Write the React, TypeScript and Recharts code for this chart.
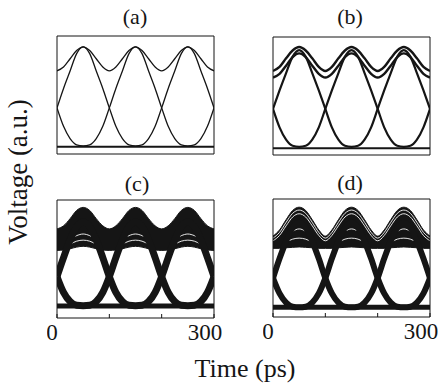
import { ComposedChart, Line, Area, XAxis, YAxis } from "recharts";

const SERIF = '"Liberation Serif", "DejaVu Serif", "Times New Roman", serif';
const INK = "#151515";

// sample times across the 300 ps window
const timePs = [
  0, 12.5, 25, 37.5, 50, 62.5, 75, 87.5, 100, 112.5, 125, 137.5, 150, 162.5, 175, 187.5, 200,
  212.5, 225, 237.5, 250, 262.5, 275, 287.5, 300,
];
const xTicks = [0, 100, 200, 300];
const yTicks = [0, 1, 2, 3, 4, 5];
const timeLabels = [0, 300];

// (a) clean eye
const aOnes = [3.76, 3.95, 4.35, 4.75, 4.93, 4.75, 4.35, 3.95, 3.76, 3.95, 4.35, 4.75, 4.93, 4.75, 4.35, 3.95, 3.76, 3.95, 4.35, 4.75, 4.93, 4.75, 4.35, 3.95, 3.76];
const aFall = [1.95, 2.9, 3.75, 4.6, 4.93, 4.6, 3.75, 2.9, 1.95, 1.05, 0.45, 0.15, 0.1, 0.15, 0.45, 1.05, 1.95, 2.9, 3.75, 4.6, 4.93, 4.6, 3.75, 2.9, 1.95];
const aRise = [1.95, 1.05, 0.45, 0.15, 0.1, 0.15, 0.45, 1.05, 1.95, 2.9, 3.75, 4.6, 4.93, 4.6, 3.75, 2.9, 1.95, 1.05, 0.45, 0.15, 0.1, 0.15, 0.45, 1.05, 1.95];
const aZeros = [0.05, 0.05, 0.05, 0.05, 0.05, 0.05, 0.05, 0.05, 0.05, 0.05, 0.05, 0.05, 0.05, 0.05, 0.05, 0.05, 0.05, 0.05, 0.05, 0.05, 0.05, 0.05, 0.05, 0.05, 0.05];

// (b) slightly split "1" level
const bOnesHi = [3.8, 4.0, 4.42, 4.8, 4.97, 4.8, 4.42, 4.0, 3.8, 4.0, 4.42, 4.8, 4.97, 4.8, 4.42, 4.0, 3.8, 4.0, 4.42, 4.8, 4.97, 4.8, 4.42, 4.0, 3.8];
const bOnesLo = [3.48, 3.66, 4.06, 4.48, 4.66, 4.48, 4.06, 3.66, 3.48, 3.66, 4.06, 4.48, 4.66, 4.48, 4.06, 3.66, 3.48, 3.66, 4.06, 4.48, 4.66, 4.48, 4.06, 3.66, 3.48];
const bFall = [1.95, 2.85, 3.7, 4.5, 4.82, 4.5, 3.7, 2.85, 1.95, 1.05, 0.45, 0.15, 0.1, 0.15, 0.45, 1.05, 1.95, 2.85, 3.7, 4.5, 4.82, 4.5, 3.7, 2.85, 1.95];
const bRise = [1.95, 1.05, 0.45, 0.15, 0.1, 0.15, 0.45, 1.05, 1.95, 2.85, 3.7, 4.5, 4.82, 4.5, 3.7, 2.85, 1.95, 1.05, 0.45, 0.15, 0.1, 0.15, 0.45, 1.05, 1.95];
const bZeros = [0.03, 0.03, 0.03, 0.03, 0.03, 0.03, 0.03, 0.03, 0.03, 0.03, 0.03, 0.03, 0.03, 0.03, 0.03, 0.03, 0.03, 0.03, 0.03, 0.03, 0.03, 0.03, 0.03, 0.03, 0.03];

// (c) noisy eye
const cOnesHi = [4.05, 4.2, 4.55, 4.95, 5.1, 4.95, 4.55, 4.2, 4.05, 4.2, 4.55, 4.95, 5.1, 4.95, 4.55, 4.2, 4.05, 4.2, 4.55, 4.95, 5.1, 4.95, 4.55, 4.2, 4.05];
const cOnesLo = [3.0, 3.02, 3.08, 3.16, 3.2, 3.16, 3.08, 3.02, 3.0, 3.02, 3.08, 3.16, 3.2, 3.16, 3.08, 3.02, 3.0, 3.02, 3.08, 3.16, 3.2, 3.16, 3.08, 3.02, 3.0];
const cGap1 = [null, null, 3.3, 3.45, 3.5, 3.45, 3.3, null, null, null, 3.3, 3.45, 3.5, 3.45, 3.3, null, null, null, 3.3, 3.45, 3.5, 3.45, 3.3, null, null];
const cGap2 = [null, null, 3.55, 3.72, 3.8, 3.72, 3.55, null, null, null, 3.55, 3.72, 3.8, 3.72, 3.55, null, null, null, 3.55, 3.72, 3.8, 3.72, 3.55, null, null];
const cFall = [1.72, 2.65, 3.5, 4.15, 4.4, 4.15, 3.5, 2.65, 1.72, 0.95, 0.5, 0.32, 0.3, 0.32, 0.5, 0.95, 1.72, 2.65, 3.5, 4.15, 4.4, 4.15, 3.5, 2.65, 1.72];
const cRise = [1.72, 0.95, 0.5, 0.32, 0.3, 0.32, 0.5, 0.95, 1.72, 2.65, 3.5, 4.15, 4.4, 4.15, 3.5, 2.65, 1.72, 0.95, 0.5, 0.32, 0.3, 0.32, 0.5, 0.95, 1.72];
const cZeros = [0.28, 0.28, 0.28, 0.28, 0.28, 0.28, 0.28, 0.28, 0.28, 0.28, 0.28, 0.28, 0.28, 0.28, 0.28, 0.28, 0.28, 0.28, 0.28, 0.28, 0.28, 0.28, 0.28, 0.28, 0.28];

// (d) noisy eye, deeper "11" dips
const dOnesHi = [3.65, 3.95, 4.45, 4.9, 5.06, 4.9, 4.45, 3.95, 3.65, 3.95, 4.45, 4.9, 5.06, 4.9, 4.45, 3.95, 3.65, 3.95, 4.45, 4.9, 5.06, 4.9, 4.45, 3.95, 3.65];
const dOnesLo = [3.05, 3.05, 3.08, 3.1, 3.12, 3.1, 3.08, 3.05, 3.05, 3.05, 3.08, 3.1, 3.12, 3.1, 3.08, 3.05, 3.05, 3.05, 3.08, 3.1, 3.12, 3.1, 3.08, 3.05, 3.05];
const dGap1 = [3.55, 3.83, 4.32, 4.76, 4.92, 4.76, 4.32, 3.83, 3.55, 3.83, 4.32, 4.76, 4.92, 4.76, 4.32, 3.83, 3.55, 3.83, 4.32, 4.76, 4.92, 4.76, 4.32, 3.83, 3.55];
const dGap2 = [3.42, 3.68, 4.15, 4.58, 4.74, 4.58, 4.15, 3.68, 3.42, 3.68, 4.15, 4.58, 4.74, 4.58, 4.15, 3.68, 3.42, 3.68, 4.15, 4.58, 4.74, 4.58, 4.15, 3.68, 3.42];
const dGap3 = [null, null, 3.6, 3.88, 4.0, 3.88, 3.6, null, null, null, 3.6, 3.88, 4.0, 3.88, 3.6, null, null, null, 3.6, 3.88, 4.0, 3.88, 3.6, null, null];
const dGap4 = [null, null, 3.35, 3.5, 3.55, 3.5, 3.35, null, null, null, 3.35, 3.5, 3.55, 3.5, 3.35, null, null, null, 3.35, 3.5, 3.55, 3.5, 3.35, null, null];
const dFall = [1.6, 2.55, 3.4, 4.05, 4.3, 4.05, 3.4, 2.55, 1.6, 0.85, 0.4, 0.2, 0.17, 0.2, 0.4, 0.85, 1.6, 2.55, 3.4, 4.05, 4.3, 4.05, 3.4, 2.55, 1.6];
const dRise = [1.6, 0.85, 0.4, 0.2, 0.17, 0.2, 0.4, 0.85, 1.6, 2.55, 3.4, 4.05, 4.3, 4.05, 3.4, 2.55, 1.6, 0.85, 0.4, 0.2, 0.17, 0.2, 0.4, 0.85, 1.6];
const dZeros = [0.17, 0.17, 0.17, 0.17, 0.17, 0.17, 0.17, 0.17, 0.17, 0.17, 0.17, 0.17, 0.17, 0.17, 0.17, 0.17, 0.17, 0.17, 0.17, 0.17, 0.17, 0.17, 0.17, 0.17, 0.17];

type Trace = { name: string; values: (number | null)[]; width: number; color?: string };
type Band = { name: string; lo: number[]; hi: number[] };

const BOX_W = 157;
const BOX_H = 118;

function TimeTick(props: any) {
  const v = props.payload?.value;
  if (!timeLabels.includes(v)) return <g />;
  const dx = v === 0 ? -5 : -9;
  return (
    <text x={props.x + dx} y={props.y + 24} textAnchor="middle" fontSize={23} fontFamily={SERIF} fill={INK}>
      {v}
    </text>
  );
}

function EyePanel({
  left,
  top,
  bands = [],
  traces,
  withTimeLabels = false,
}: {
  left: number;
  top: number;
  bands?: Band[];
  traces: Trace[];
  withTimeLabels?: boolean;
}) {
  // axes take 1px each, the margins make up the rest
  const margin = { top: 1, right: 13, bottom: withTimeLabels ? 31 : 1, left: 9 };
  const rows = timePs.map((t, i) => {
    const row: Record<string, any> = { t };
    bands.forEach((b) => (row[b.name] = [b.lo[i], b.hi[i]]));
    traces.forEach((tr) => (row[tr.name] = tr.values[i]));
    return row;
  });

  return (
    <div style={{ position: "absolute", left: left - margin.left - 1, top: top - margin.top - 1 }}>
      <ComposedChart
        width={BOX_W + margin.left + margin.right + 2}
        height={BOX_H + margin.top + margin.bottom + 2}
        data={rows}
        margin={margin}
      >
        <XAxis
          dataKey="t"
          type="number"
          domain={[0, 300]}
          ticks={xTicks}
          height={1}
          allowDataOverflow
          tickSize={-4}
          axisLine={{ stroke: INK }}
          tickLine={{ stroke: INK }}
          tick={withTimeLabels ? <TimeTick /> : false}
        />
        <XAxis
          xAxisId="top"
          orientation="top"
          dataKey="t"
          type="number"
          domain={[0, 300]}
          ticks={xTicks}
          height={1}
          tickSize={-4}
          axisLine={{ stroke: INK }}
          tickLine={{ stroke: INK }}
          tick={false}
        />
        <YAxis
          domain={[-0.3, 5.46]}
          ticks={yTicks}
          width={1}
          allowDataOverflow
          tickSize={-4}
          axisLine={{ stroke: INK }}
          tickLine={{ stroke: INK }}
          tick={false}
        />
        <YAxis
          yAxisId="right"
          orientation="right"
          domain={[-0.3, 5.46]}
          ticks={yTicks}
          width={1}
          tickSize={-4}
          axisLine={{ stroke: INK }}
          tickLine={{ stroke: INK }}
          tick={false}
        />
        {bands.map((b) => (
          <Area
            key={b.name}
            dataKey={b.name}
            type="monotone"
            stroke={INK}
            strokeWidth={1}
            fill={INK}
            fillOpacity={1}
            isAnimationActive={false}
          />
        ))}
        {traces.map((tr) => (
          <Line
            key={tr.name}
            dataKey={tr.name}
            type="monotone"
            stroke={tr.color ?? INK}
            strokeWidth={tr.width}
            dot={false}
            connectNulls={false}
            isAnimationActive={false}
          />
        ))}
      </ComposedChart>
    </div>
  );
}

const textBase = { position: "absolute" as const, fontFamily: SERIF, color: INK, whiteSpace: "nowrap" as const };

export default function App() {
  return (
    <div style={{ position: "absolute", left: 0, top: 0, width: 448, height: 391, background: "#fff", overflow: "hidden" }}>
      <div style={{ ...textBase, left: 135, top: 17, fontSize: 22, transform: "translate(-50%, -50%)" }}>(a)</div>
      <div style={{ ...textBase, left: 350, top: 17, fontSize: 22, transform: "translate(-50%, -50%)" }}>(b)</div>
      <div style={{ ...textBase, left: 137, top: 184, fontSize: 22, transform: "translate(-50%, -50%)" }}>(c)</div>
      <div style={{ ...textBase, left: 350, top: 183, fontSize: 22, transform: "translate(-50%, -50%)" }}>(d)</div>

      <EyePanel
        left={57}
        top={36}
        traces={[
          { name: "ones", values: aOnes, width: 1.3 },
          { name: "fall", values: aFall, width: 1.3 },
          { name: "rise", values: aRise, width: 1.3 },
          { name: "zeros", values: aZeros, width: 2 },
        ]}
      />
      <EyePanel
        left={273}
        top={37}
        traces={[
          { name: "onesHi", values: bOnesHi, width: 2.4 },
          { name: "onesLo", values: bOnesLo, width: 2.4 },
          { name: "fall", values: bFall, width: 2.2 },
          { name: "rise", values: bRise, width: 2.2 },
          { name: "zeros", values: bZeros, width: 2.2 },
        ]}
      />
      <EyePanel
        left={57}
        top={200}
        withTimeLabels
        bands={[{ name: "ones", lo: cOnesLo, hi: cOnesHi }]}
        traces={[
          { name: "gap1", values: cGap1, width: 0.9, color: "#fff" },
          { name: "gap2", values: cGap2, width: 0.9, color: "#fff" },
          { name: "fall", values: cFall, width: 7 },
          { name: "rise", values: cRise, width: 7 },
          { name: "zeros", values: cZeros, width: 5 },
        ]}
      />
      <EyePanel
        left={273}
        top={199}
        withTimeLabels
        bands={[{ name: "ones", lo: dOnesLo, hi: dOnesHi }]}
        traces={[
          { name: "gap1", values: dGap1, width: 0.9, color: "#fff" },
          { name: "gap2", values: dGap2, width: 0.9, color: "#fff" },
          { name: "gap3", values: dGap3, width: 0.9, color: "#fff" },
          { name: "gap4", values: dGap4, width: 0.9, color: "#fff" },
          { name: "fall", values: dFall, width: 6 },
          { name: "rise", values: dRise, width: 6 },
          { name: "zeros", values: dZeros, width: 5 },
        ]}
      />

      <div
        style={{
          ...textBase,
          left: 18,
          top: 172,
          fontSize: 27,
          transform: "translate(-50%, -50%) rotate(-90deg)",
        }}
      >
        Voltage (a.u.)
      </div>
      <div style={{ ...textBase, left: 245, top: 369, fontSize: 26, transform: "translate(-50%, -50%)" }}>
        Time (ps)
      </div>
    </div>
  );
}
